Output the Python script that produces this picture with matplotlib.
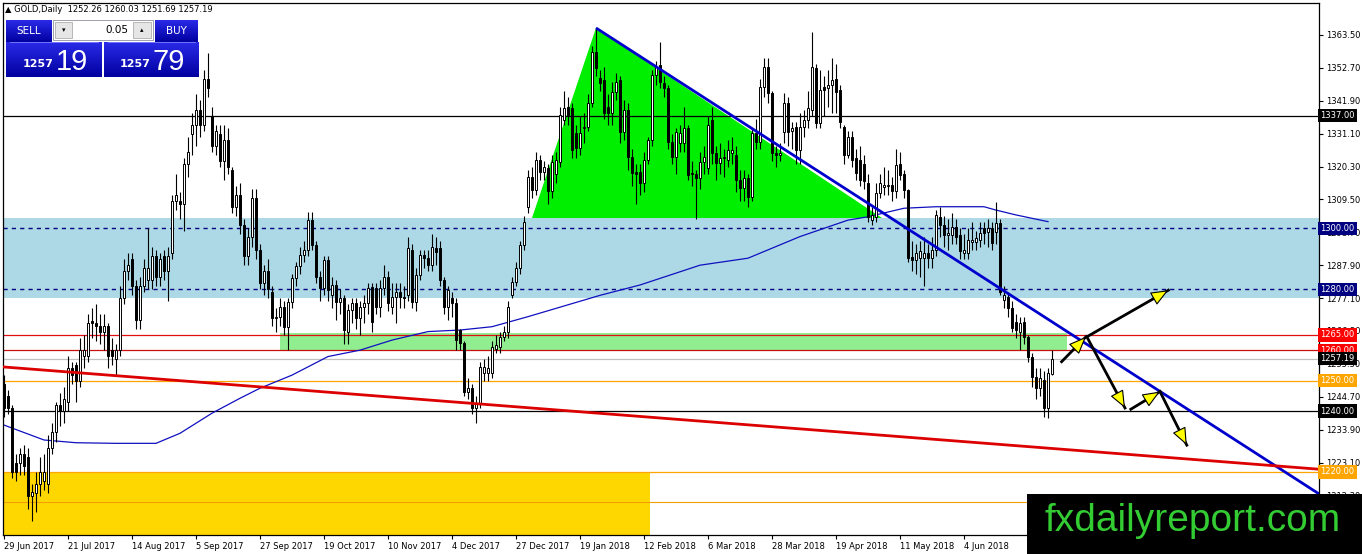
import numpy as np
import matplotlib.pyplot as plt
import matplotlib.transforms as mtransforms
from matplotlib.patches import Rectangle, Polygon, FancyArrowPatch
from matplotlib.colors import LinearSegmentedColormap

# daily OHLC, GOLD, 29 Jun 2017 .. Jun 2018
opens = [
    1249, 1245, 1241, 1223, 1223, 1226, 1225, 1212, 1213, 1216,
    1217, 1216, 1228, 1233, 1242, 1240, 1243, 1254, 1255, 1250,
    1258, 1258, 1269.5, 1269, 1268, 1266, 1268, 1260, 1257, 1260,
    1277, 1286, 1290, 1281, 1270, 1281, 1283, 1283, 1291, 1284,
    1291, 1286, 1292, 1309, 1309, 1308, 1321, 1331, 1334, 1339,
    1334, 1349, 1337, 1327, 1331, 1322, 1329, 1319, 1307, 1311,
    1301, 1291, 1297, 1310, 1293, 1282, 1286, 1279.2, 1270.5, 1271,
    1274.3, 1267.7, 1275.9, 1283.6, 1287.5, 1291.3, 1292.9, 1302.7, 1294.5, 1284.1,
    1280.3, 1289.6, 1278.1, 1281.4, 1275.9, 1277.0, 1266.1, 1273.2, 1275.4, 1270.5,
    1274.3, 1275.4, 1280.9, 1280.3, 1274.3, 1280.3, 1284.1, 1274.3, 1277.6, 1279.2,
    1277.6, 1278.1, 1292.9, 1275.9, 1284.7, 1291.3, 1290.2, 1288.0, 1293.4, 1293.4,
    1283.0, 1274.3, 1277.0, 1275.4, 1266.6, 1262.2, 1246.4, 1247.5, 1240.9, 1242.5,
    1252.4, 1252.4, 1252.4, 1260.5, 1261.1, 1264.4, 1266.1, 1278.0, 1282.5, 1286.9,
    1294.5, 1307.1, 1317.0, 1312.6, 1322.5, 1318.6, 1319.7, 1312.1, 1318.0, 1321.9,
    1335.6, 1339.9, 1339.4, 1331.2, 1326.3, 1333.0, 1333.4, 1341.1, 1358.0, 1349.3,
    1348.7, 1340.0, 1337.8, 1344.9, 1348.7, 1331.8, 1338.9, 1323.5, 1318.6, 1318.6,
    1314.8, 1322.5, 1329.0, 1350.4, 1353.6, 1347.6, 1346.0, 1328.5, 1323.5, 1328.0,
    1328.0, 1332.9, 1318.1, 1317.9, 1316.4, 1321.9, 1319.7, 1335.6, 1324.6, 1321.4,
    1323.0, 1322.5, 1324.6, 1324.1, 1315.9, 1313.1, 1316.4, 1310.4, 1331.2, 1328.5,
    1346.5, 1353.1, 1344.3, 1324.6, 1324.1, 1331.8, 1341.0, 1332.0, 1333.4, 1325.7,
    1333.4, 1335.6, 1338.9, 1352.6, 1334.5, 1346.5, 1346.0, 1347.0, 1348.9, 1345.4,
    1333.4, 1324.1, 1330.0, 1323.0, 1322.5, 1321.0, 1314.8, 1302.7, 1303.8, 1311.5,
    1313.7, 1314.0, 1314.2, 1312.1, 1321.1, 1317.9, 1312.6, 1290.7, 1289.6, 1290.2,
    1290.2, 1291.8, 1290.2, 1292.9, 1303.8, 1301.1, 1297.8, 1297.8, 1300.6, 1297.8,
    1292.0, 1291.8, 1295.6, 1295.6, 1296.2, 1300.0, 1298.9, 1300.0, 1298.9, 1301.6,
    1276.5, 1277.6, 1273.7, 1269.4, 1266.1, 1269.4, 1264.4, 1257.9, 1251.3, 1247.5,
    1250.2, 1240.9, 1252.26,
]
highs = [
    1252, 1247, 1242, 1226, 1228, 1229, 1228, 1216, 1220, 1225,
    1226, 1232, 1236, 1243, 1246, 1248, 1258, 1256, 1256, 1264,
    1265, 1272, 1274, 1275, 1272, 1272, 1269, 1264, 1262, 1281,
    1290, 1292, 1292, 1283, 1284, 1290, 1300, 1294, 1293, 1292,
    1293, 1294, 1311, 1318, 1312, 1323, 1330, 1338, 1344, 1342,
    1352, 1357.5, 1340, 1334, 1334, 1334, 1333, 1320, 1314, 1315,
    1303, 1300, 1313, 1313, 1295, 1288, 1290, 1281, 1274, 1277,
    1276, 1277, 1285, 1289, 1294, 1296, 1305.5, 1305.5, 1296, 1286,
    1291, 1291, 1284, 1283, 1280, 1278, 1275, 1277, 1277, 1276,
    1278, 1282, 1282, 1282, 1283, 1288, 1286, 1282, 1282, 1282,
    1281, 1297, 1295, 1287, 1293, 1293, 1293, 1298, 1297, 1296,
    1284, 1281, 1279, 1277, 1267, 1263, 1251, 1249, 1245, 1256,
    1257, 1258, 1263, 1265, 1266, 1268, 1276, 1284, 1289, 1296,
    1304, 1319, 1320, 1325, 1324, 1322, 1321, 1324, 1325, 1340,
    1345, 1343, 1341, 1334, 1337, 1338, 1344, 1360, 1365.7, 1352,
    1353, 1344, 1348, 1351, 1350, 1342, 1341, 1326, 1321, 1321,
    1325, 1330, 1352, 1355, 1361.3, 1350, 1347, 1331, 1333, 1334,
    1340, 1334, 1322, 1319, 1325, 1327, 1337, 1340, 1327, 1328,
    1326, 1329, 1330, 1327, 1319, 1319, 1318, 1333, 1336, 1349,
    1356, 1356, 1345, 1327, 1328, 1344.3, 1343, 1335, 1335, 1338,
    1339, 1345, 1364.6, 1354, 1352, 1350, 1352, 1356, 1354, 1347,
    1334, 1332, 1332, 1326, 1327, 1324, 1318, 1307, 1315, 1318,
    1320, 1319, 1317, 1326, 1325, 1319, 1313, 1296, 1295, 1296,
    1297, 1295, 1297, 1306, 1307, 1304, 1303, 1305, 1303, 1300,
    1298, 1300, 1302, 1299, 1302, 1302, 1303, 1302, 1308.8, 1303,
    1281, 1279, 1276, 1272, 1271, 1271, 1265, 1259, 1254, 1254,
    1253, 1254, 1260.03,
]
lows = [
    1238, 1239, 1218, 1217, 1219, 1219, 1208, 1204, 1207, 1212,
    1214, 1213, 1226, 1230, 1235, 1236, 1240, 1249, 1243, 1248,
    1254, 1256, 1264, 1263, 1262, 1260, 1254, 1255, 1252, 1258,
    1275, 1283, 1278, 1267, 1267, 1279, 1280, 1280, 1281, 1281,
    1283, 1276, 1290, 1306, 1303, 1299, 1317, 1324, 1327, 1330,
    1332, 1343, 1325, 1324, 1320, 1316, 1318, 1305, 1304, 1298,
    1288, 1288, 1294, 1290, 1280, 1278, 1277, 1268, 1266, 1268,
    1265, 1260, 1274, 1281, 1285, 1289, 1291, 1293, 1282, 1276,
    1278, 1276, 1274, 1270, 1272, 1262, 1262, 1269, 1267, 1265,
    1269, 1272, 1266, 1272, 1271, 1278, 1273, 1272, 1269, 1274,
    1274, 1276, 1274, 1273, 1283, 1287, 1286, 1286, 1288, 1281,
    1272, 1270, 1271, 1260, 1260, 1245, 1244, 1239, 1236, 1241,
    1250, 1250, 1251, 1259, 1259, 1263, 1264, 1277, 1281, 1285,
    1293, 1305, 1310, 1311, 1316, 1316, 1308, 1310, 1315, 1320,
    1334, 1334, 1323, 1323, 1324, 1328, 1332, 1340, 1350, 1345,
    1336, 1334, 1334, 1342, 1328, 1329, 1319, 1314, 1308, 1311,
    1312, 1321, 1327, 1347, 1346, 1343, 1326, 1321, 1318, 1325,
    1325, 1316, 1314, 1303, 1313, 1318, 1318, 1321, 1316, 1318,
    1317, 1320, 1321, 1312, 1309, 1309, 1307, 1309, 1326, 1326,
    1343, 1341, 1322, 1320, 1322, 1328, 1327, 1326, 1321, 1321,
    1330, 1333, 1337, 1333, 1333, 1337, 1340, 1338, 1338, 1333,
    1321, 1323, 1320, 1316, 1314, 1313, 1302, 1301, 1302, 1310,
    1311, 1311, 1309, 1310, 1316, 1310, 1289, 1286, 1285, 1284,
    1281, 1287, 1287, 1291, 1297, 1294, 1293, 1295, 1295, 1290,
    1290, 1290, 1293, 1293, 1294, 1295, 1294, 1293, 1295, 1278,
    1274, 1271, 1266, 1264, 1260, 1262, 1256, 1248, 1244, 1245,
    1238, 1237.6, 1251.69,
]
closes = [
    1241, 1241, 1220, 1220, 1226, 1222, 1212, 1213.5, 1216, 1220,
    1220, 1228, 1233, 1242, 1240, 1244, 1254, 1252, 1250, 1260,
    1260, 1269, 1269, 1268, 1266, 1268, 1258, 1258, 1260, 1277,
    1286, 1288, 1281, 1270, 1281, 1287, 1287, 1291, 1284, 1290,
    1286, 1291, 1309, 1311, 1308, 1321, 1325, 1334, 1339, 1334,
    1349, 1346, 1327, 1332, 1322, 1329, 1320, 1307, 1311, 1301,
    1291, 1297, 1310, 1293, 1282, 1286, 1280, 1270.5, 1271, 1274.3,
    1267.7, 1275.9, 1283.6, 1287.5, 1291.3, 1292.9, 1302.7, 1294.5, 1284.1, 1280.3,
    1289.6, 1279.8, 1281.4, 1275.9, 1277.0, 1266.6, 1273.2, 1275.4, 1270.5, 1274.3,
    1275.4, 1280.3, 1269.4, 1274.3, 1280.3, 1284.1, 1275.4, 1277.6, 1279.2, 1277.6,
    1277.0, 1293.4, 1275.9, 1284.7, 1291.3, 1290.2, 1288.0, 1294.0, 1292.3, 1283.0,
    1274.3, 1279.8, 1275.4, 1263.3, 1262.2, 1246.4, 1247.5, 1240.9, 1242.5, 1254.6,
    1254.6, 1254.0, 1261.1, 1261.7, 1264.4, 1266.1, 1274.3, 1282.5, 1286.9, 1294.5,
    1302.2, 1317.0, 1312.6, 1322.5, 1318.6, 1320.3, 1312.1, 1321.9, 1322.5, 1337.2,
    1339.4, 1337.2, 1325.7, 1326.3, 1331.2, 1333.4, 1341.1, 1358.0, 1352.6, 1347.6,
    1337.8, 1337.8, 1344.9, 1348.2, 1331.8, 1338.9, 1323.5, 1318.1, 1318.0, 1314.8,
    1322.5, 1329.0, 1350.4, 1353.1, 1348.2, 1346.0, 1328.5, 1323.5, 1331.8, 1331.2,
    1332.9, 1317.5, 1317.8, 1316.4, 1321.9, 1323.5, 1333.9, 1324.6, 1321.4, 1323.0,
    1323.5, 1325.7, 1325.7, 1315.9, 1313.1, 1316.4, 1310.4, 1331.2, 1328.5, 1346.5,
    1353.1, 1344.3, 1324.6, 1324.1, 1324.6, 1341.1, 1331.8, 1332.8, 1325.7, 1333.4,
    1335.6, 1339.4, 1353.1, 1334.5, 1345.4, 1345.4, 1347.1, 1348.7, 1344.9, 1335.0,
    1324.1, 1330.1, 1322.5, 1318.1, 1315.9, 1315.5, 1303.8, 1304.4, 1311.5, 1314.8,
    1314.2, 1314.2, 1312.1, 1320.8, 1317.5, 1312.6, 1290.2, 1289.6, 1291.8, 1292.4,
    1291.8, 1290.2, 1292.9, 1304.4, 1301.1, 1297.8, 1298.4, 1300.6, 1297.3, 1292.4,
    1292.9, 1296.2, 1296.2, 1296.7, 1298.4, 1298.4, 1300.0, 1295.1, 1301.6, 1279.2,
    1278.1, 1273.7, 1267.2, 1266.6, 1268.8, 1264.4, 1257.9, 1251.3, 1247.5, 1250.7,
    1240.9, 1252.4, 1257.19,
]

# moving average line (bar index, price)
ma_bars = [0, 10, 18, 28, 38, 44, 52, 59, 64, 72, 81, 89, 97, 106, 114, 122, 131,
           149, 159, 174, 186, 199, 211, 216, 225, 233, 245, 248, 253, 261]
ma_vals = [1235.4, 1230.5, 1229.6, 1229.4, 1229.4, 1232.7, 1239.3, 1244.2, 1247.5,
           1251.8, 1257.9, 1260.0, 1263.3, 1266.1, 1266.6, 1267.7, 1271.0, 1278.0,
           1281.4, 1287.9, 1290.2, 1297.3, 1302.7, 1303.8, 1306.6, 1307.1, 1307.1,
           1306.0, 1304.4, 1302.2]

date_bars = [0, 16, 32, 48, 64, 80, 96, 112, 128, 144, 160, 176, 192, 208, 224, 240]
date_labels = ['29 Jun 2017', '21 Jul 2017', '14 Aug 2017', '5 Sep 2017', '27 Sep 2017',
               '19 Oct 2017', '10 Nov 2017', '4 Dec 2017', '27 Dec 2017', '19 Jan 2018',
               '12 Feb 2018', '6 Mar 2018', '28 Mar 2018', '19 Apr 2018', '11 May 2018',
               '4 Jun 2018']

price_ticks = [1363.50, 1352.70, 1341.90, 1331.10, 1320.30, 1309.50, 1298.70, 1287.90,
               1277.10, 1266.30, 1255.50, 1244.70, 1233.90, 1223.10, 1212.30]

level_values = [1337.00, 1300.00, 1280.00, 1265.00, 1260.00, 1257.19, 1250.00, 1240.00, 1220.00]
level_colors = ['black', '#000080', '#000080', '#ff0000', '#ff0000', 'black', '#ffa500', 'black', '#ffa500']

# drawn objects on the chart (bar index / price)
blue_zone = (1277.1, 1303.4)
green_zone = (69, 265.7, 1259.7, 1265.7)
gold_zone = (-0.25, 161.5, 1220.0)
triangle = [(132, 1303.4), (148, 1365.8), (219.5, 1303.4)]
blue_trend = [(148, 1365.8), (328.75, 1212.8)]
red_trend = [(-0.25, 1254.5), (328.75, 1220.9)]
arrows = [((264.4, 1256.2), (270.5, 1264.4)),
          ((271.0, 1264.6), (291.1, 1279.7)),
          ((270.7, 1264.4), (280.25, 1241.0)),
          ((281.7, 1240.6), (289.0, 1246.4)),
          ((289.0, 1246.4), (295.7, 1228.8))]

W, H = 1362, 554
fig = plt.figure(figsize=(W / 100, H / 100), dpi=100)
ax = fig.add_axes([3 / W, 19 / H, 1316 / W, 532 / H])
ax.set_xlim(-0.25, 328.75)
ax.set_ylim(1199.3, 1374.0)

# zones
ax.axhspan(blue_zone[0], blue_zone[1], color='#add8e6', zorder=0, lw=0)
ax.add_patch(Rectangle((green_zone[0], green_zone[2]), green_zone[1] - green_zone[0],
                       green_zone[3] - green_zone[2], fc='#90ee90', ec='none', zorder=0.5))
ax.add_patch(Rectangle((gold_zone[0], 1190), gold_zone[1] - gold_zone[0],
                       gold_zone[2] - 1190, fc='#ffd700', ec='none', zorder=0.5))
ax.add_patch(Polygon(triangle, closed=True, fc='#00ee00', ec='none', zorder=0.6))

# horizontal levels
ax.axhline(1300, color='#000080', lw=1, ls=(0, (3, 3)), zorder=1)
ax.axhline(1280, color='#000080', lw=1, ls=(0, (3, 3)), zorder=1)
ax.axhline(1337, color='black', lw=0.9, zorder=1)
ax.axhline(1240, color='black', lw=0.9, zorder=1)
ax.axhline(1265, color='#e01010', lw=0.9, zorder=1)
ax.axhline(1260, color='#c81010', lw=0.9, zorder=1)
ax.axhline(1257.19, color='#c0c0c0', lw=0.9, zorder=1)
ax.axhline(1250, color='#ffa500', lw=0.9, zorder=1)
ax.axhline(1220, color='#ffa500', lw=0.9, zorder=1)
ax.axhline(1210, color='#f0a000', lw=0.8, zorder=1)

# moving average
ax.plot(ma_bars, ma_vals, color='#1010c0', lw=0.9, zorder=2)

# candles
o = np.array(opens)
h = np.array(highs)
l = np.array(lows)
c = np.array(closes)
xs = np.arange(len(c))
ax.vlines(xs, l, h, color='black', lw=0.8, zorder=3)
up = c >= o
ax.bar(xs[up], c[up] - o[up], bottom=o[up], width=0.7, color='white',
       edgecolor='black', linewidth=0.7, zorder=4)
ax.bar(xs[~up], o[~up] - c[~up], bottom=c[~up], width=0.7, color='black',
       edgecolor='black', linewidth=0.7, zorder=4)

# trend lines
ax.plot(*zip(*blue_trend), color='#0000cd', lw=2, zorder=5, solid_capstyle='butt')
ax.plot(*zip(*red_trend), color='#dd0000', lw=2, zorder=5, solid_capstyle='butt')

# arrows
for (x0, y0), (x1, y1) in arrows:
    ax.plot([x0, x1], [y0, y1], color='black', lw=2, zorder=6)
    ax.add_patch(FancyArrowPatch((x0, y0), (x1, y1),
                                 arrowstyle='-|>,head_length=11,head_width=4.5',
                                 mutation_scale=1, fc='#ffff00', ec='black', lw=0.8,
                                 shrinkA=0, shrinkB=0, zorder=7))

# axes styling
for s in ax.spines.values():
    s.set_color('black')
    s.set_linewidth(0.9)
ax.yaxis.tick_right()
ax.set_yticks(price_ticks)
ax.set_yticklabels([f'{v:.2f}' for v in price_ticks])
ax.set_xticks(date_bars)
ax.set_xticklabels(date_labels)
plt.setp(ax.get_xticklabels(), ha='left')
ax.tick_params(axis='both', direction='out', length=3, width=0.8, labelsize=6, pad=2)

trans = mtransforms.blended_transform_factory(ax.transAxes, ax.transData)
for v, col in zip(level_values, level_colors):
    ax.text(1.0012, v, f'{v:.2f}', transform=trans, fontsize=6, color='white',
            va='center', ha='left', zorder=10, clip_on=False,
            bbox=dict(boxstyle='square,pad=0.25', fc=col, ec='none'))

# overlay in pixel coordinates
ov = fig.add_axes([0, 0, 1, 1], zorder=20)
ov.set_xlim(0, W)
ov.set_ylim(H, 0)
ov.axis('off')
ov.patch.set_alpha(0)

ov.text(5, 10, '\u25b2 GOLD,Daily  1252.26 1260.03 1251.69 1257.19', fontsize=6,
        va='center', ha='left', color='black')

grad = np.linspace(0, 1, 50).reshape(-1, 1)
blue_cmap = LinearSegmentedColormap.from_list('b', ['#2a2ae8', '#0000a0'])
for x0, x1 in [(6, 52), (155, 198)]:
    ov.imshow(grad, cmap=blue_cmap, extent=(x0, x1, 42, 20), aspect='auto', zorder=1)
for x0, x1 in [(6, 102), (104, 199)]:
    ov.imshow(grad, cmap=blue_cmap, extent=(x0, x1, 77, 42), aspect='auto', zorder=1)
    ov.plot([x0 + 4, x1 - 4], [42, 42], color='#8080ff', lw=0.6, zorder=2)
ov.add_patch(Rectangle((53, 20), 100, 20, fc='white', ec='#9090a0', lw=0.6, zorder=2))
ov.add_patch(Rectangle((55, 22), 17, 16, fc='#e6e6e6', ec='#a0a0a0', lw=0.5, zorder=3))
ov.add_patch(Rectangle((133, 22), 18, 16, fc='#e6e6e6', ec='#a0a0a0', lw=0.5, zorder=3))
ov.text(63.5, 30, '\u25be', fontsize=5, ha='center', va='center', zorder=4)
ov.text(142, 30, '\u25b4', fontsize=5, ha='center', va='center', zorder=4)
ov.text(128, 30, '0.05', fontsize=7.5, ha='right', va='center', zorder=4)
ov.text(29, 31, 'SELL', fontsize=7.5, color='white', ha='center', va='center', zorder=4)
ov.text(176, 31, 'BUY', fontsize=7.5, color='white', ha='center', va='center', zorder=4)
ov.text(23, 67, '1257', fontsize=8, color='white', ha='left', va='baseline',
        fontweight='bold', zorder=4)
ov.text(56, 70, '19', fontsize=21, color='white', ha='left', va='baseline',
        family='Liberation Sans', zorder=4)
ov.text(120, 67, '1257', fontsize=8, color='white', ha='left', va='baseline',
        fontweight='bold', zorder=4)
ov.text(152, 70, '79', fontsize=21, color='white', ha='left', va='baseline',
        family='Liberation Sans', zorder=4)

ov.add_patch(Rectangle((1027, 494), W - 1027, H - 494, fc='black', ec='none', zorder=5))
ov.text(1193, 521, 'fxdailyreport.com', fontsize=28, color='#33cc33',
        family='Liberation Sans', ha='center', va='center', zorder=6)

fig.savefig('out.png', dpi=100)
